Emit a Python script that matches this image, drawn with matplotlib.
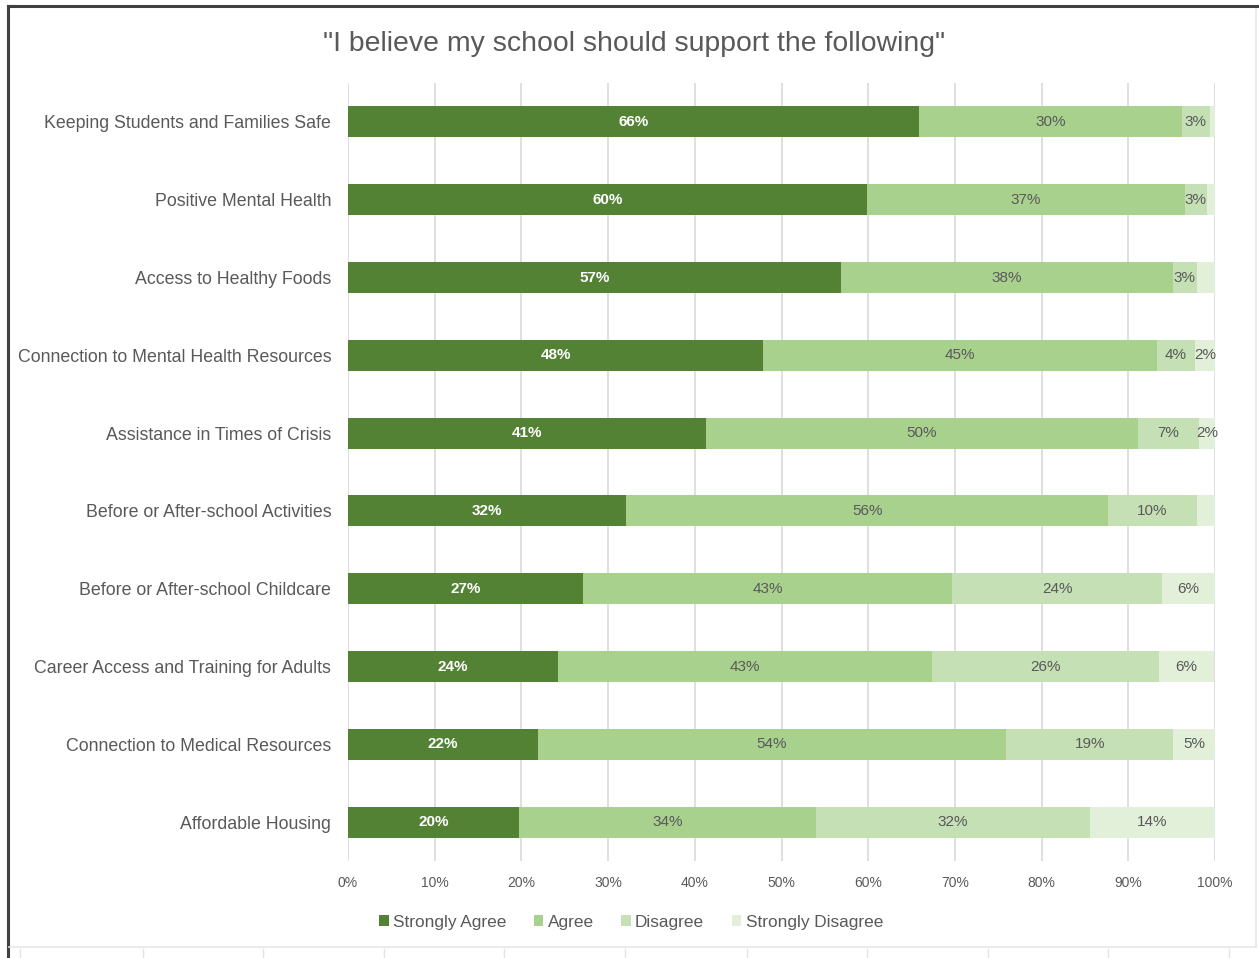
"""Stacked 100% bar chart: survey on what schools should support."""

import matplotlib
matplotlib.use("Agg")
import matplotlib.pyplot as plt
from matplotlib.lines import Line2D
import numpy as np

plt.rcParams["font.family"] = ["Liberation Sans", "DejaVu Sans"]

categories = [
    "Keeping Students and Families Safe",
    "Positive Mental Health",
    "Access to Healthy Foods",
    "Connection to Mental Health Resources",
    "Assistance in Times of Crisis",
    "Before or After-school Activities",
    "Before or After-school Childcare",
    "Career Access and Training for Adults",
    "Connection to Medical Resources",
    "Affordable Housing",
]
series = ["Strongly Agree", "Agree", "Disagree", "Strongly Disagree"]

strongly_agree = [65.9, 59.9, 56.9, 47.9, 41.3, 32.1, 27.1, 24.2, 21.9, 19.7]
agree = [30.3, 36.6, 38.2, 45.4, 49.8, 55.6, 42.6, 43.2, 54.0, 34.3]
disagree = [3.2, 2.6, 2.8, 4.4, 7.1, 10.2, 24.2, 26.1, 19.3, 31.6]
strongly_disagree = [0.6, 0.9, 2.1, 2.3, 1.8, 2.1, 6.1, 6.4, 4.8, 14.4]

# segments whose data label is not shown: (row, series index)
hidden_labels = {(0, 3), (1, 3), (2, 3), (5, 3)}

colors = ["#548235", "#A9D18E", "#C5E0B4", "#E2F0D9"]
label_colors = ["white", "#595959", "#595959", "#595959"]
grey = "#595959"

W, H = 1259, 958
fig = plt.figure(figsize=(W / 100, H / 100), dpi=100)

# outer frame and faint sheet gridlines around the chart object
fig.add_artist(Line2D([8 / W, 8 / W], [0, 1 - 6 / H], color="#404040", lw=2.2))
fig.add_artist(Line2D([8 / W, 1], [1 - 6 / H, 1 - 6 / H], color="#404040", lw=2.2))
fig.add_artist(Line2D([9 / W, 1256 / W], [1 - 947 / H, 1 - 947 / H], color="#E8E8E8", lw=1.2))
fig.add_artist(Line2D([1256 / W, 1256 / W], [1 - 947 / H, 1 - 9 / H], color="#E8E8E8", lw=1.2))
for gx in [20, 143, 263, 384, 504, 625, 747, 867, 988, 1108, 1229]:
    fig.add_artist(Line2D([gx / W, gx / W], [0, 1 - 949 / H], color="#E4E4E4", lw=1))

ax = fig.add_axes([348 / W, 1 - 861 / H, (1215 - 348) / W, (861 - 83) / H])

data = np.array([strongly_agree, agree, disagree, strongly_disagree])
y = np.arange(len(categories))
left = np.zeros(len(categories))
for k, name in enumerate(series):
    vals = data[k]
    ax.barh(y, vals, left=left, height=0.4, color=colors[k], label=name, zorder=3)
    for i, v in enumerate(vals):
        if (i, k) in hidden_labels:
            continue
        ax.text(left[i] + v / 2, y[i], f"{v:.0f}%", ha="center", va="center",
                fontsize=11, color=label_colors[k],
                fontweight="bold" if k == 0 else "normal", zorder=4)
    left += vals

ax.set_xlim(0, 100)
ax.set_ylim(len(categories) - 0.5, -0.5)
ax.set_yticks(y)
ax.set_yticklabels(categories, fontsize=12.8, color=grey)
ax.set_xticks(np.arange(0, 101, 10))
ax.set_xticklabels([f"{t}%" for t in range(0, 101, 10)], fontsize=10, color=grey)
ax.tick_params(axis="both", length=0)
ax.tick_params(axis="y", pad=12)
ax.tick_params(axis="x", pad=11)
ax.grid(axis="x", color="#D9D9D9", lw=1.2, zorder=0)
for s in ax.spines.values():
    s.set_visible(False)

fig.text(634 / W, 1 - 44 / H, '"I believe my school should support the following"',
         ha="center", va="center", fontsize=20.4, color=grey)

handles, labels = ax.get_legend_handles_labels()
fig.legend(handles, labels, loc="center", bbox_to_anchor=(631 / W, 1 - 922 / H),
           ncol=4, frameon=False, fontsize=12.4, handlelength=0.55, handleheight=0.55,
           handletextpad=0.25, columnspacing=1.6, labelcolor=grey)

fig.savefig("out.png", dpi=100)
